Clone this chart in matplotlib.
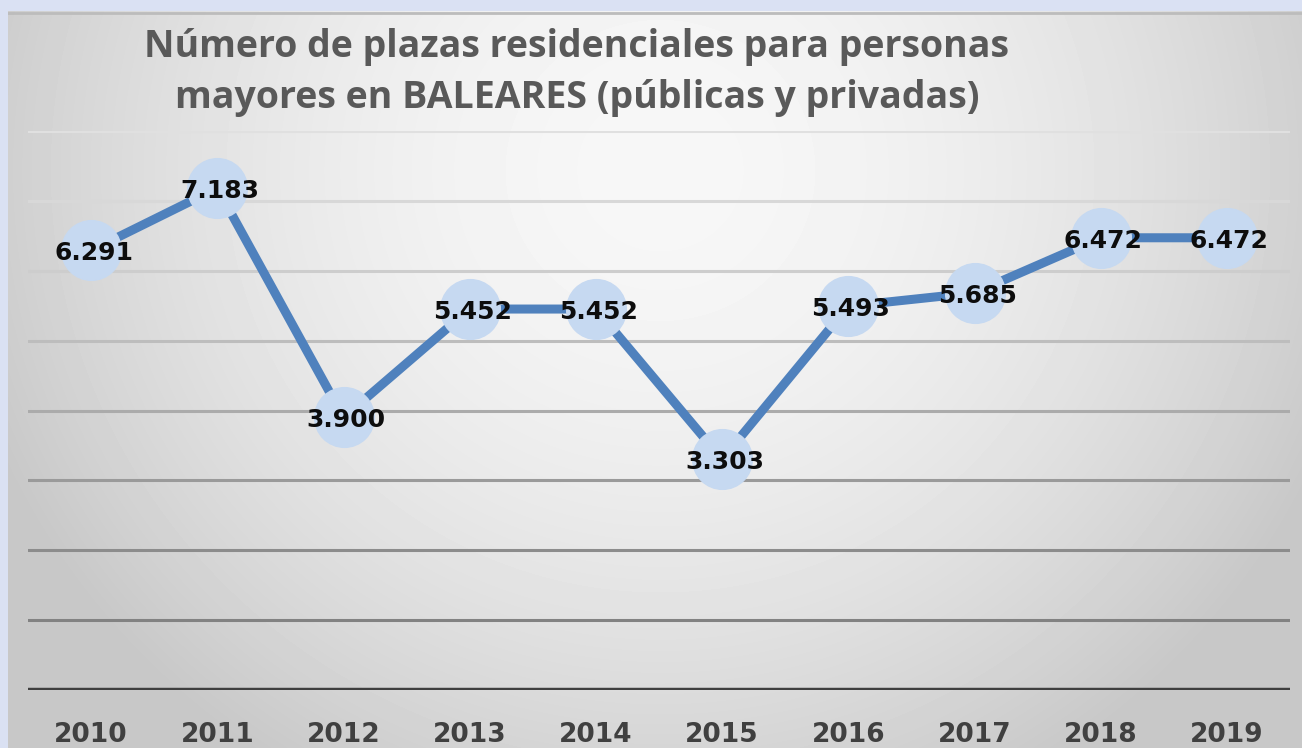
import numpy as np
import matplotlib
matplotlib.use("Agg")
import matplotlib.pyplot as plt

# data
years = ["2010", "2011", "2012", "2013", "2014", "2015", "2016", "2017", "2018", "2019"]
plazas = [6291, 7183, 3900, 5452, 5452, 3303, 5493, 5685, 6472, 6472]
labels = ["6.291", "7.183", "3.900", "5.452", "5.452", "3.303", "5.493", "5.685", "6.472", "6.472"]
grid_levels = [1000, 2000, 3000, 4000, 5000, 6000, 7000, 8000]
grid_colors = ["#828282", "#8c8c8c", "#9a9a9a", "#ababab", "#bdbdbd", "#cdcdcd", "#d8d8d8", "#e0e0e0"]

W, H = 1302, 748
fig = plt.figure(figsize=(W / 100, H / 100), dpi=100)
fig.patch.set_facecolor("#dae1f3")

# chart panel with a radial gray gradient
px0, py0 = 8, 11
bg = fig.add_axes([px0 / W, 0, (W - px0) / W, (H - py0) / H])
bg.set_axis_off()
xx, yy = np.meshgrid(np.arange(px0, W), np.arange(py0, H))
r = np.sqrt(((xx - 660) / 720) ** 2 + ((yy - 170) / 700) ** 2)
val = 247 - 47 * np.clip(r, 0, 1) ** 1.8
bg.imshow(val, cmap="gray", vmin=0, vmax=255, aspect="auto", interpolation="bilinear")
bg.axhline(1, color="#bcbcbc", lw=2)

# plot area
left, right, bottom, top = 28, 1290, 690, 131
ax = fig.add_axes([left / W, (H - bottom) / H, (right - left) / W, (bottom - top) / H])
ax.patch.set_alpha(0)
ax.set_xlim(-0.5, len(years) - 0.5)
ax.set_ylim(0, 8000)

for lvl, c in zip(grid_levels, grid_colors):
    ax.axhline(lvl, color=c, lw=2.2, zorder=1)
ax.axhline(0, color="#3f3f3f", lw=3.2, zorder=1)

x = np.arange(len(years))
ax.plot(x, plazas, color="#4f81bd", lw=6.5, zorder=2, solid_capstyle="round",
        marker="o", markersize=43, markerfacecolor="#c6d9f1",
        markeredgecolor="#c6d9f1", clip_on=False)

for xi, v, lab in zip(x, plazas, labels):
    ax.text(xi + 0.02, v - 40, lab, ha="center", va="center",
            fontsize=18, fontweight="bold", color="#0d0d0d", zorder=3)

for s in ax.spines.values():
    s.set_visible(False)
ax.set_yticks([])
ax.set_xticks(x)
ax.set_xticklabels(years, fontsize=19, fontweight="bold", color="#404040")
ax.tick_params(axis="x", length=0, pad=23)

fig.text(577 / W, 1 - 47 / H, "Número de plazas residenciales para personas",
         ha="center", va="center", fontsize=27, fontweight="bold",
         color="#595959", family="Open Sans")
fig.text(577 / W, 1 - 98 / H, "mayores en BALEARES (públicas y privadas)",
         ha="center", va="center", fontsize=27, fontweight="bold",
         color="#595959", family="Open Sans")

fig.savefig("out.png", dpi=100, facecolor=fig.get_facecolor())
